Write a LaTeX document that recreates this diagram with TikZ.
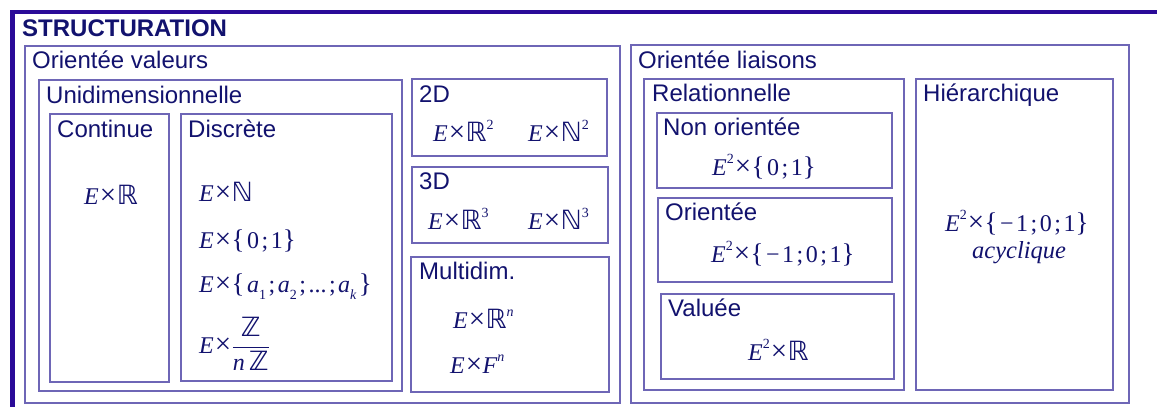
\documentclass[tikz,border=0pt]{standalone}
\usepackage{fontspec}
\setmainfont{Liberation Sans}
\newfontfamily\tms{Liberation Serif}
\newfontfamily\dvs{DejaVu Sans}
\definecolor{txt}{HTML}{12126E}
\definecolor{bx}{HTML}{6E66B6}
\definecolor{frm}{HTML}{2A0A98}
\newcommand\fE{{\tms\itshape E}}
\newcommand\fit[1]{{\tms\itshape #1}}
\newcommand\fx{\hspace{1pt}{\fontsize{29}{29}\selectfont\tms ×}\hspace{0.5pt}}
\newcommand\fR{{\fontsize{26.5}{28}\selectfont\dvs ℝ}}
\newcommand\fN{{\fontsize{26.5}{28}\selectfont\dvs ℕ}}
\newcommand\fZ{{\fontsize{26.5}{28}\selectfont\dvs ℤ}}
\newcommand\fpow[1]{\raisebox{0.5em}{\fontsize{14}{14}\selectfont\tms #1}}
\newcommand\fsub[1]{\raisebox{-0.3em}{\fontsize{14}{14}\selectfont\tms #1}}
\newcommand\fs{\hspace{2.5pt}}
\newcommand\fsc{{\tms ;}}
\newcommand\flb{{\fontsize{27}{28}\selectfont\tms\{}}
\newcommand\frb{{\fontsize{27}{28}\selectfont\tms\}}}
\newcommand\fmin{{\tms −}}
\tikzset{
  box/.style={draw=bx, line width=1.3pt},
  lab/.style={anchor=base west, inner sep=0pt, text=txt, font=\fontsize{24}{28}\selectfont},
  fm/.style={anchor=base west, inner sep=0pt, text=txt, font=\fontsize{24}{28}\selectfont},
}
\begin{document}
\begin{tikzpicture}[x=1pt,y=-1pt]
\useasboundingbox (0,0) rectangle (1157,407);
% outer frame
\draw[draw=frm, line width=4.6pt] (12.4,407) -- (12.4,11.8) -- (1157,11.8);
\node[lab, font=\fontsize{24}{28}\selectfont\bfseries] (title) at (22,36) {STRUCTURATION};
% boxes
\draw[box] (25,46) rectangle (620,403);
\draw[box] (631,45) rectangle (1129,403);
\draw[box] (39,80) rectangle (402,391);
\draw[box] (50,114) rectangle (169,382);
\draw[box] (181,114) rectangle (392,381);
\draw[box] (412,79) rectangle (607,156);
\draw[box] (412,167) rectangle (608,243);
\draw[box] (411,257) rectangle (609,392);
\draw[box] (644,79) rectangle (904,390);
\draw[box] (657,113) rectangle (892,188);
\draw[box] (658,198) rectangle (892,282);
\draw[box] (661,294) rectangle (894,379);
\draw[box] (916,79) rectangle (1113,390);
% labels
\node[lab] (ov) at (32,68) {Orientée valeurs};
\node[lab] (ol) at (638,68) {Orientée liaisons};
\node[lab] (uni) at (46,103) {Unidimensionnelle};
\node[lab] (cont) at (57,137) {Continue};
\node[lab] (disc) at (188,137) {Discrète};
\node[lab] (d2) at (419,102) {2D};
\node[lab] (d3) at (419,189) {3D};
\node[lab] (md) at (419,279) {Multidim.};
\node[lab] (rel) at (652,101) {Relationnelle};
\node[lab] (hie) at (923,101) {Hiérarchique};
\node[lab] (nor) at (663,135) {Non orientée};
\node[lab] (ori) at (665,220) {Orientée};
\node[lab] (val) at (668,316) {Valuée};
% formulas
\node[fm, anchor=base] (fc) at (111,204) {\fE\fx\fR};
\node[fm] (fd1) at (199,201) {\fE\fx\fN};
\node[fm] (fd2) at (199,248) {\fE\fx\flb\fs{\tms 0}\fs\fsc\fs{\tms 1}\frb};
\node[fm] (fd3) at (199,292) {\fE\fx\flb\fs\fit{a}\fsub{1}\fs\fsc\fs\fit{a}\fsub{2}\fs\fsc\fs{\tms ...}\fs\fsc\fs\fit{a}\fsub{\itshape k}\fs\frb};
\node[fm] (fd4) at (199,353) {\fE\fx$\displaystyle\frac{\hbox{\fZ}}{\hbox{\fit{n}\,\fZ}}$};
\node[fm] (f2a) at (433,141) {\fE\fx\fR\fpow{2}};
\node[fm] (f2b) at (528,141) {\fE\fx\fN\fpow{2}};
\node[fm] (f3a) at (428,229) {\fE\fx\fR\fpow{3}};
\node[fm] (f3b) at (528,229) {\fE\fx\fN\fpow{3}};
\node[fm] (fma) at (453,328) {\fE\fx\fR\fpow{\itshape n}};
\node[fm] (fmb) at (450,373) {\fE\fx\fit{F}\fpow{\itshape n}};
\node[fm] (fno) at (712,175) {\fE\fpow{2}\fx\flb\fs{\tms 0}\fs\fsc\fs{\tms 1}\frb};
\node[fm] (for) at (711,262) {\fE\fpow{2}\fx\flb\fs\fmin\fs{\tms 1}\fs\fsc\fs{\tms 0}\fs\fsc\fs{\tms 1}\frb};
\node[fm] (fva) at (748,360) {\fE\fpow{2}\fx\fR};
\node[fm] (fhi) at (945,231) {\fE\fpow{2}\fx\flb\fs\fmin\fs{\tms 1}\fs\fsc\fs{\tms 0}\fs\fsc\fs{\tms 1}\frb};
\node[fm, font=\fontsize{24.5}{28}\selectfont\tms\itshape] (acy) at (972,258) {acyclique};
\end{tikzpicture}
\end{document}
